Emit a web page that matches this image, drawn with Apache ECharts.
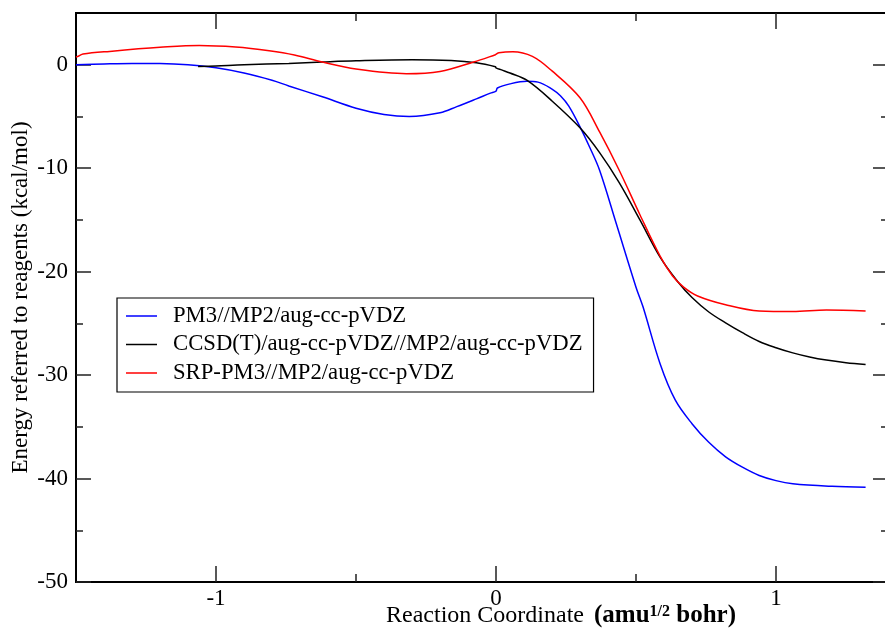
<!DOCTYPE html>
<html>
<head>
<meta charset="utf-8">
<script src="https://cdn.jsdelivr.net/npm/echarts@6/dist/echarts.min.js"></script>
<style>
html,body{margin:0;padding:0;background:#fff;}
#chart{width:885px;height:634px;}
</style>
</head>
<body>
<div id="chart"></div>
<script>
// ---- data ----
var seriesNames = ['PM3//MP2/aug-cc-pVDZ', 'CCSD(T)/aug-cc-pVDZ//MP2/aug-cc-pVDZ', 'SRP-PM3//MP2/aug-cc-pVDZ'];
var pm3 = [
  [-1.5,0.0],[-1.4,0.08],[-1.3,0.13],[-1.2,0.12],[-1.1,0.0],[-1.0,-0.3],[-0.9,-0.8],[-0.8,-1.5],
  [-0.74,-2.05],[-0.62,-3.1],[-0.5,-4.2],[-0.4,-4.8],[-0.31,-5.0],[-0.2,-4.65],[-0.14,-4.05],
  [-0.07,-3.3],[-0.02,-2.75],[0.0,-2.55],[0.005,-2.25],[0.05,-1.85],[0.11,-1.6],[0.15,-1.68],
  [0.2,-2.35],[0.23,-3.0],[0.26,-4.0],[0.3,-6.0],[0.335,-8.0],[0.37,-10.2],[0.43,-15.4],
  [0.5,-21.5],[0.525,-23.4],[0.586,-28.9],[0.64,-32.4],[0.7,-34.7],[0.76,-36.5],[0.82,-37.9],
  [0.88,-38.9],[0.94,-39.7],[1.0,-40.2],[1.06,-40.5],[1.2,-40.75],[1.32,-40.85]
];
var ccsd = [
  [-1.064,-0.18],[-1.0,-0.12],[-0.9,0.0],[-0.74,0.12],[-0.62,0.26],[-0.5,0.38],[-0.3,0.48],
  [-0.16,0.4],[-0.07,0.18],[-0.002,-0.2],[0.0,-0.3],[0.02,-0.5],[0.05,-0.8],[0.11,-1.5],
  [0.2,-3.5],[0.3,-6.1],[0.37,-8.5],[0.44,-11.4],[0.514,-15.0],[0.586,-18.6],[0.65,-21.0],
  [0.7,-22.5],[0.76,-23.9],[0.82,-24.95],[0.88,-25.9],[0.94,-26.75],[1.0,-27.35],[1.06,-27.85],
  [1.12,-28.25],[1.18,-28.55],[1.25,-28.8],[1.32,-28.98]
];
var srp = [
  [-1.5,0.75],[-1.49,0.85],[-1.475,1.03],[-1.38,1.29],[-1.2,1.68],[-1.06,1.87],[-0.93,1.72],
  [-0.81,1.36],[-0.72,0.95],[-0.62,0.26],[-0.5,-0.42],[-0.32,-0.87],[-0.2,-0.65],[-0.08,0.26],
  [-0.002,0.97],[0.0,1.0],[0.01,1.15],[0.06,1.25],[0.13,0.8],[0.2,-0.6],[0.3,-3.2],[0.37,-6.5],
  [0.44,-10.2],[0.514,-14.5],[0.586,-18.5],[0.63,-20.4],[0.67,-21.5],[0.72,-22.35],[0.82,-23.2],
  [0.94,-23.8],[1.06,-23.85],[1.18,-23.7],[1.32,-23.8]
];
var seriesColors = ['#0000ff', '#000000', '#ff0000'];
var xMajor = [-1, 0, 1];
var xMinor = [-0.5, 0.5];
var yMajor = [-50, -40, -30, -20, -10, 0];
var yMinor = [-45, -35, -25, -15, -5];
var xRange = [-1.5, 1.4];
var yRange = [-50, 5];

var FONT = '"Liberation Serif", "DejaVu Serif", serif';
var chart = echarts.init(document.getElementById('chart'), null, {renderer: 'canvas'});

function makeAxis(pos, values, len, withLabels, range) {
  return {
    type: 'value', position: pos, min: range[0], max: range[1],
    axisLine: {show: true, onZero: false, lineStyle: {color: '#000', width: 2}},
    splitLine: {show: false},
    axisTick: {show: true, inside: true, length: len, customValues: values,
               lineStyle: {color: '#222', width: 1.5}},
    axisLabel: {show: withLabels, customValues: values, fontSize: 23, fontFamily: FONT,
                color: '#000', margin: 5},
    axisPointer: {show: false}
  };
}

var xAxes = [
  makeAxis('bottom', xMajor, 16, true, xRange),
  makeAxis('bottom', xMinor, 8, false, xRange),
  makeAxis('top', xMajor, 16, false, xRange),
  makeAxis('top', xMinor, 8, false, xRange)
];
xAxes[0].axisLabel.margin = 5;
xAxes[0].name = '{a|Reaction Coordinate}   {b|(amu}{c|1/2}{b| bohr)}';
xAxes[0].nameLocation = 'middle';
xAxes[0].nameGap = 22;
xAxes[0].nameMoveOverlap = false;
xAxes[0].nameTextStyle = {
  padding: [0, 0, 0, 158],
  rich: {
    a: {fontSize: 24, fontFamily: FONT, color: '#000', lineHeight: 24},
    b: {fontSize: 25, fontFamily: FONT, fontWeight: 'bold', color: '#000', lineHeight: 24},
    c: {fontSize: 16, fontFamily: FONT, fontWeight: 'bold', color: '#000', verticalAlign: 'top', lineHeight: 15}
  }
};

var yAxes = [
  makeAxis('left', yMajor, 15, true, yRange),
  makeAxis('left', yMinor, 7, false, yRange),
  makeAxis('right', yMajor, 15, false, yRange),
  makeAxis('right', yMinor, 7, false, yRange)
];
yAxes[0].axisLabel.margin = 8;
yAxes[0].name = 'Energy referred to reagents (kcal/mol)';
yAxes[0].nameLocation = 'middle';
yAxes[0].nameGap = 44;
yAxes[0].nameMoveOverlap = false;
yAxes[0].nameTextStyle = {fontSize: 23, fontFamily: FONT, color: '#000'};

var datasets = [pm3, ccsd, srp];
var series = datasets.map(function (d, i) {
  return {
    name: seriesNames[i], type: 'line', data: d, xAxisIndex: 0, yAxisIndex: 0,
    showSymbol: false, symbol: 'none', smooth: 0.35,
    lineStyle: {color: seriesColors[i], width: 1.5},
    itemStyle: {color: seriesColors[i]},
    animation: false, silent: true
  };
});

chart.setOption({
  animation: false,
  backgroundColor: '#fff',
  grid: {left: 76, top: 13, right: -3, bottom: 52, containLabel: false, outerBoundsMode: 'none'},
  xAxis: xAxes,
  yAxis: yAxes,
  legend: {
    show: true, orient: 'vertical', left: 117, top: 298,
    data: seriesNames,
    icon: 'rect', itemWidth: 31, itemHeight: 1.5, itemGap: 5.5,
    borderColor: '#000', borderWidth: 1.2, borderRadius: 0,
    backgroundColor: '#fff',
    padding: [6.5, 11, 7.5, 9],
    selectedMode: false,
    textStyle: {fontSize: 22.7, fontFamily: FONT, color: '#000', lineHeight: 23, padding: [0, 0, 0, 11]}
  },
  series: series
});
</script>
</body>
</html>
